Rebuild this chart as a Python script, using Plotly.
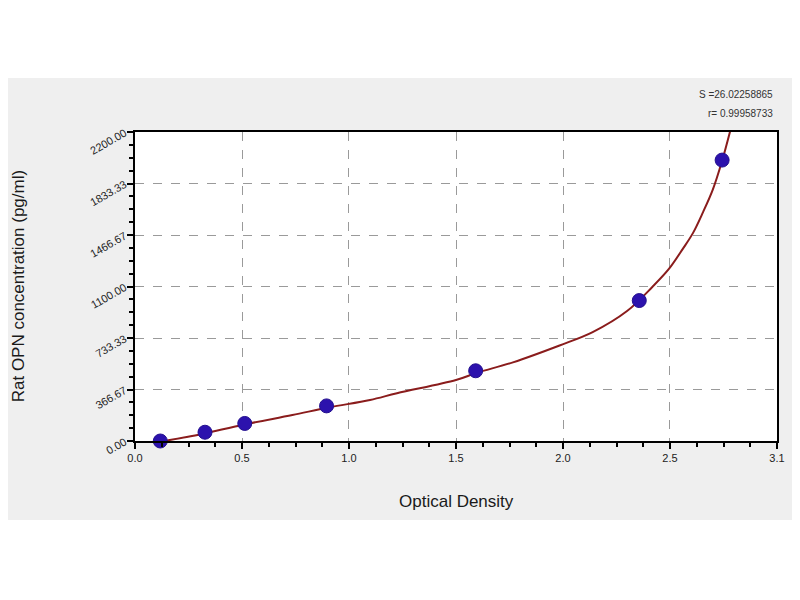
import plotly.graph_objects as go

# standards: optical density vs concentration (pg/ml)
od = [0.122, 0.338, 0.53, 0.925, 1.645, 2.435, 2.835]
conc = [0, 62.5, 125, 250, 500, 1000, 2000]

# fitted curve
fit_od = [0.14, 0.25, 0.34, 0.53, 0.76, 0.94, 1.135, 1.265, 1.55, 1.65, 1.825,
          2.05, 2.21, 2.376, 2.5, 2.578, 2.646, 2.694, 2.743, 2.79, 2.834, 2.878]
fit_conc = [0, 28, 55, 118, 185, 240, 292, 340, 434, 485, 560,
            680, 775, 925, 1100, 1225, 1370, 1480, 1630, 1790, 1990, 2230]

x_ticks = [0, 0.5167, 1.0333, 1.55, 2.0667, 2.5833, 3.1]
x_labels = ["0.0", "0.5", "1.0", "1.5", "2.0", "2.5", "3.1"]
y_ticks = [0, 366.67, 733.33, 1100, 1466.67, 1833.33, 2200]
y_labels = ["0.00", "366.67", "733.33", "1100.00", "1466.67", "1833.33", "2200.00"]

stats = ["S =26.02258865", "r= 0.99958733"]

font = "Liberation Sans, Arial, sans-serif"
grey_panel = "#efefef"

fig = go.Figure()
fig.add_trace(go.Scatter(x=fit_od, y=fit_conc, mode="lines", line_shape="spline",
                         line=dict(color="#8a1c1c", width=2), hoverinfo="skip"))
fig.add_trace(go.Scatter(x=od, y=conc, mode="markers", cliponaxis=False,
                         marker=dict(color="#2c12ad", size=14,
                                     line=dict(color="#24108f", width=1))))

axis_common = dict(
    showline=True, linecolor="black", linewidth=2, mirror=True,
    ticks="outside", ticklen=6, tickwidth=2, tickcolor="black",
    showgrid=True, gridcolor="#9a9a9a", griddash="dash", gridwidth=1,
    zeroline=False, tickmode="array",
)

fig.update_xaxes(range=[0, 3.1], tickvals=x_ticks, ticktext=x_labels,
                 tickfont=dict(family=font, size=11, color="#222222"),
                 minor=dict(tick0=0, dtick=3.1 / 24, ticks="outside", ticklen=4,
                            tickcolor="black", tickwidth=2, showgrid=False),
                 **axis_common)
fig.update_yaxes(range=[0, 2200], tickvals=y_ticks, ticktext=y_labels, tickangle=-30,
                 tickfont=dict(family=font, size=11, color="#222222"),
                 minor=dict(tick0=0, dtick=2200 / 24, ticks="outside", ticklen=4,
                            tickcolor="black", tickwidth=2, showgrid=False),
                 **axis_common)

# grey panel behind the chart, white plotting area on top of it
fig.add_shape(type="rect", xref="paper", yref="paper", x0=-0.3, x1=1.1,
              y0=-0.2557, y1=1.1748, fillcolor=grey_panel, line_width=0, layer="below")
fig.add_shape(type="rect", xref="paper", yref="paper", x0=0, x1=1, y0=0, y1=1,
              fillcolor="white", line_width=0, layer="below")

fig.add_annotation(text="Optical Density", xref="paper", yref="paper", x=0.5, y=-0.197,
                   xanchor="center", yanchor="middle", showarrow=False,
                   font=dict(family=font, size=17, color="#1a1a1a"))
fig.add_annotation(text="Rat OPN concentration (pg/ml)", xref="paper", yref="paper",
                   x=-0.181, y=0.5, xanchor="center", yanchor="middle", textangle=-90,
                   showarrow=False, font=dict(family=font, size=17, color="#1a1a1a"))
for i, s in enumerate(stats):
    fig.add_annotation(text=s, xref="paper", yref="paper", x=0.997, y=1.1456 - i * 0.0615,
                       xanchor="right", showarrow=False,
                       font=dict(family=font, size=10, color="#333333"))

fig.update_layout(
    width=800, height=600,
    margin=dict(l=127, r=31, t=124, b=167),
    paper_bgcolor="white", plot_bgcolor="white",
    showlegend=False,
)

fig.write_html("out.html")
